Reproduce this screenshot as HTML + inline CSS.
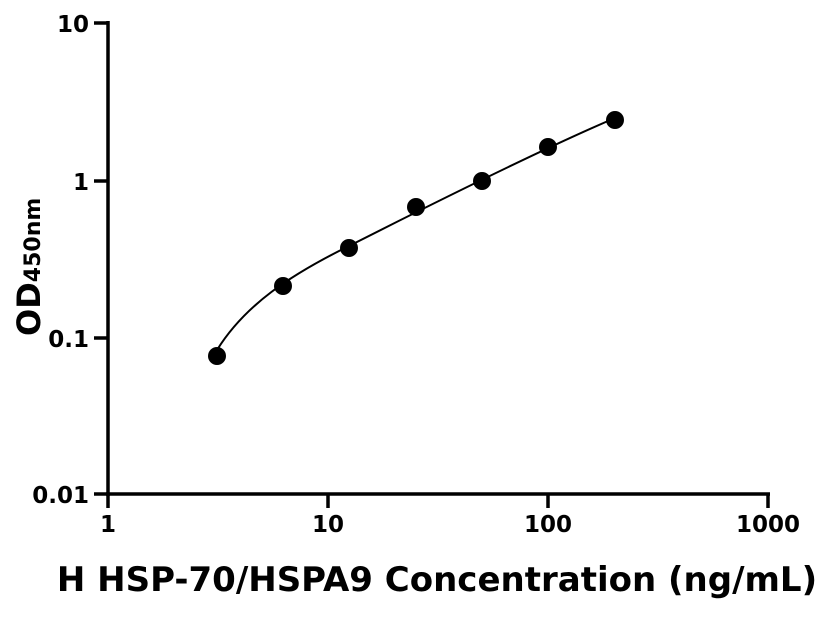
<!DOCTYPE html>
<html><head><style>body{margin:0;background:#fff}</style></head><body>
<svg width="816" height="612" xmlns="http://www.w3.org/2000/svg" font-family="DejaVu Sans, sans-serif" font-weight="bold">
<g stroke="#000" stroke-width="3.5" fill="none">
<line x1="108" y1="21" x2="108" y2="496"/>
<line x1="106" y1="494" x2="770" y2="494"/>
<line x1="94" y1="23" x2="108" y2="23"/>
<line x1="94" y1="181" x2="108" y2="181"/>
<line x1="94" y1="338" x2="108" y2="338"/>
<line x1="94" y1="494" x2="108" y2="494"/>
<line x1="108" y1="494" x2="108" y2="508"/>
<line x1="328" y1="494" x2="328" y2="508"/>
<line x1="548" y1="494" x2="548" y2="508"/>
<line x1="768" y1="494" x2="768" y2="508"/>
</g>
<g font-size="23" text-anchor="end">
<text x="89" y="32">10</text>
<text x="89" y="190">1</text>
<text x="89" y="347">0.1</text>
<text x="89" y="503">0.01</text>
</g>
<g font-size="23" text-anchor="middle">
<text x="108" y="532">1</text>
<text x="328" y="532">10</text>
<text x="548" y="532">100</text>
<text x="768" y="532">1000</text>
</g>
<text x="437" y="591" font-size="34" text-anchor="middle">H HSP-70/HSPA9 Concentration (ng/mL)</text>
<text transform="translate(40,336) rotate(-90)" font-size="32">OD<tspan font-size="22">450nm</tspan></text>
<path d="M217,350 C245,305 290,275 349,246 C420,210 540,150 615,118" stroke="#000" stroke-width="2" fill="none"/>
<g fill="#000">
<circle cx="217" cy="356" r="9"/>
<circle cx="283" cy="286" r="9"/>
<circle cx="349" cy="248" r="9"/>
<circle cx="416" cy="207" r="9"/>
<circle cx="482" cy="181" r="9"/>
<circle cx="548" cy="147" r="9"/>
<circle cx="615" cy="120" r="9"/>
</g>
</svg>
</body></html>
